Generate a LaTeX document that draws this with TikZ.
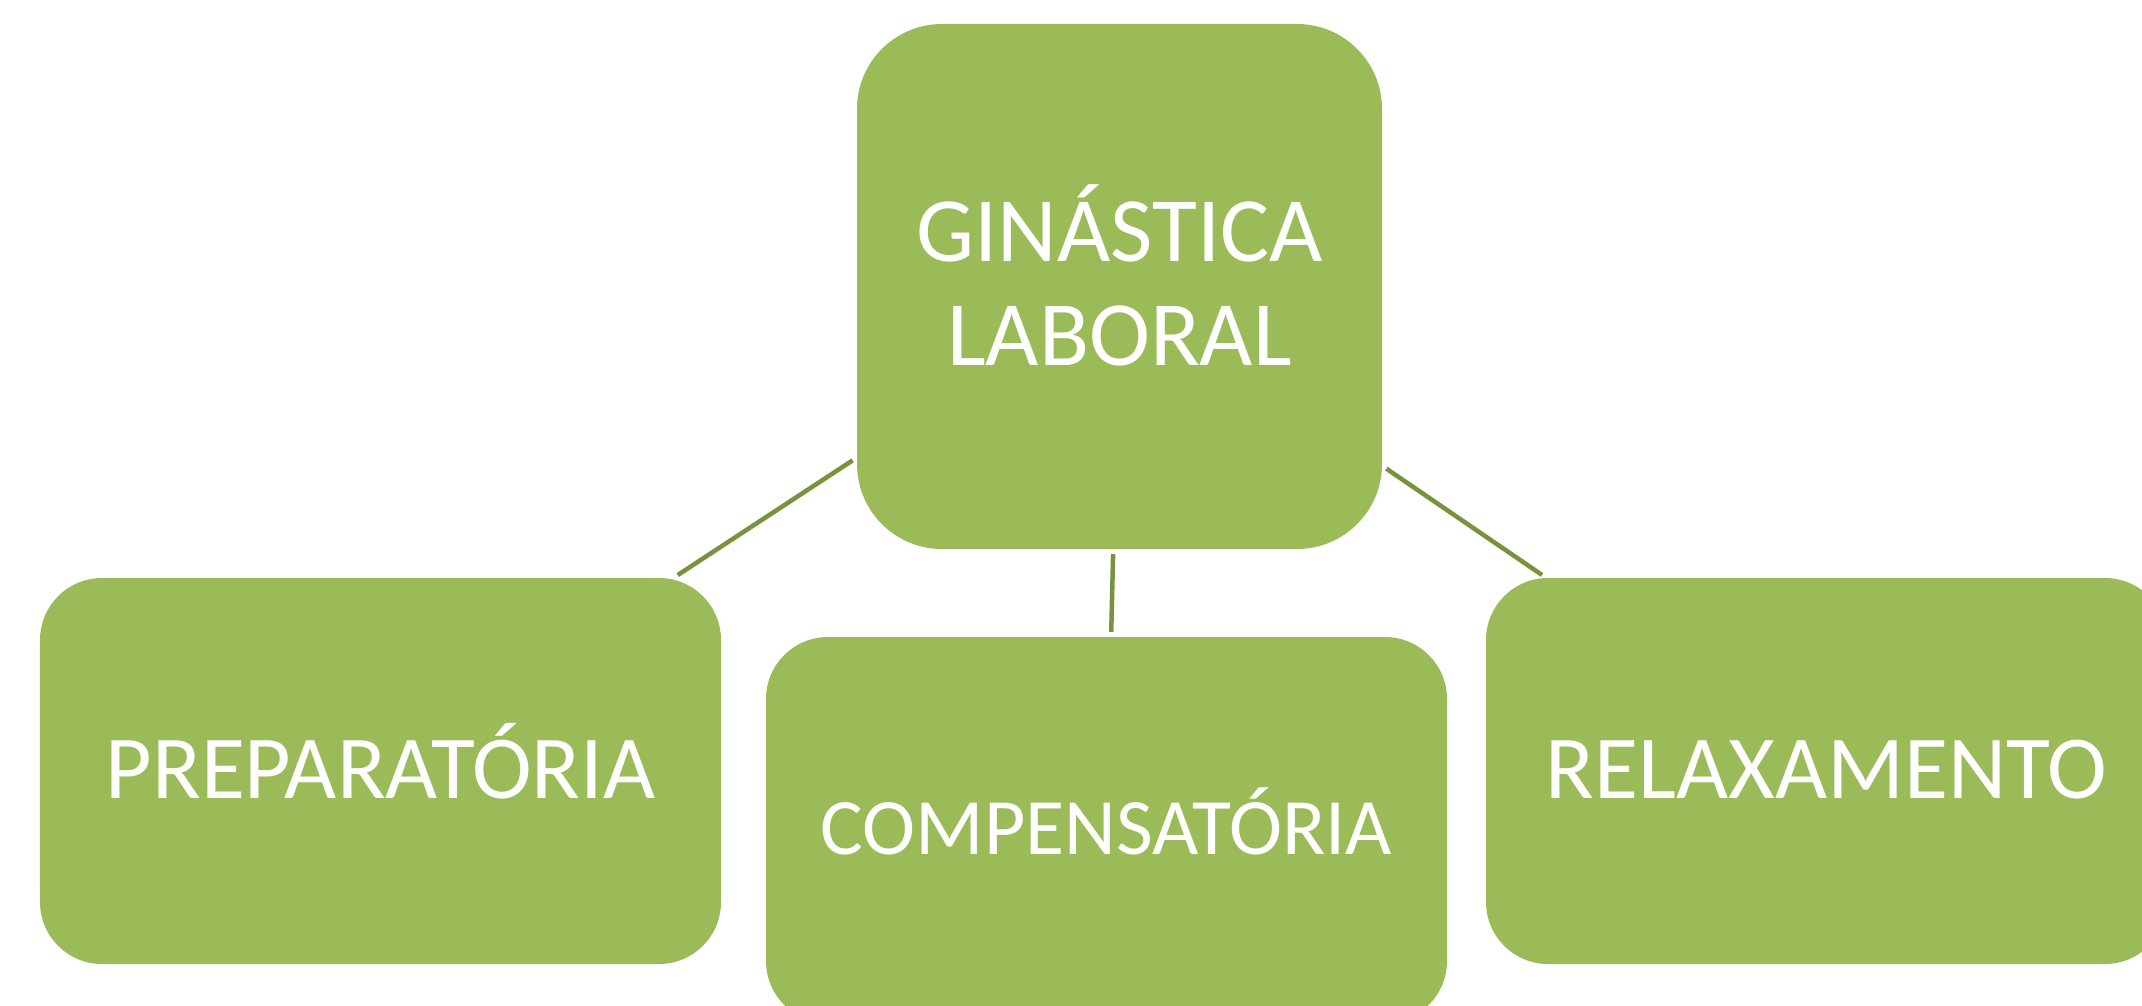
\documentclass[tikz,border=0pt]{standalone}
\usepackage{fontspec}
\setmainfont{Carlito}
\definecolor{boxgreen}{HTML}{9BBB59}
\definecolor{linegreen}{HTML}{77933C}
\begin{document}
\begin{tikzpicture}[x=1bp,y=-1bp,
  box/.style={rectangle, fill=boxgreen, draw=none, inner sep=0pt,
    minimum width=681bp, minimum height=386bp, rounded corners=62bp},
  topbox/.style={box, minimum width=525bp, minimum height=525bp, rounded corners=85bp},
  lbl/.style={text=white, anchor=base, inner sep=0pt, font=\fontsize{90bp}{104bp}\selectfont},
  link/.style={draw=linegreen, line width=4.5bp, shorten <=5bp, shorten >=5bp}]
\useasboundingbox (0,0) rectangle (2142,1006);
\clip (0,0) rectangle (2142,1006);
% boxes
\node[topbox] (top) at (1119.5,286.5) {};
\node[box] (prep) at (380.5,771) {};
\node[box] (comp) at (1106.5,830) {};
\node[box] (relax) at (1826.5,771) {};
% texts
\node[lbl, font=\fontsize{92bp}{104bp}\selectfont] (topA) at (1119.5,261) {GINÁSTICA};
\node[lbl, font=\fontsize{92bp}{104bp}\selectfont] (topB) at (1119.5,365) {LABORAL};
\node[lbl] (prepT) at (380.5,798) {PREPARATÓRIA};
\node[lbl, font=\fontsize{80bp}{96bp}\selectfont] (compT) at (1106.5,854) {COMPENSATÓRIA};
\node[lbl] (relaxT) at (1826.5,798) {RELAXAMENTO};
% connectors
\draw[link] (top) -- (prep);
\draw[link] (top) -- (comp);
\draw[link] (top) -- (relax);
\end{tikzpicture}
\end{document}
